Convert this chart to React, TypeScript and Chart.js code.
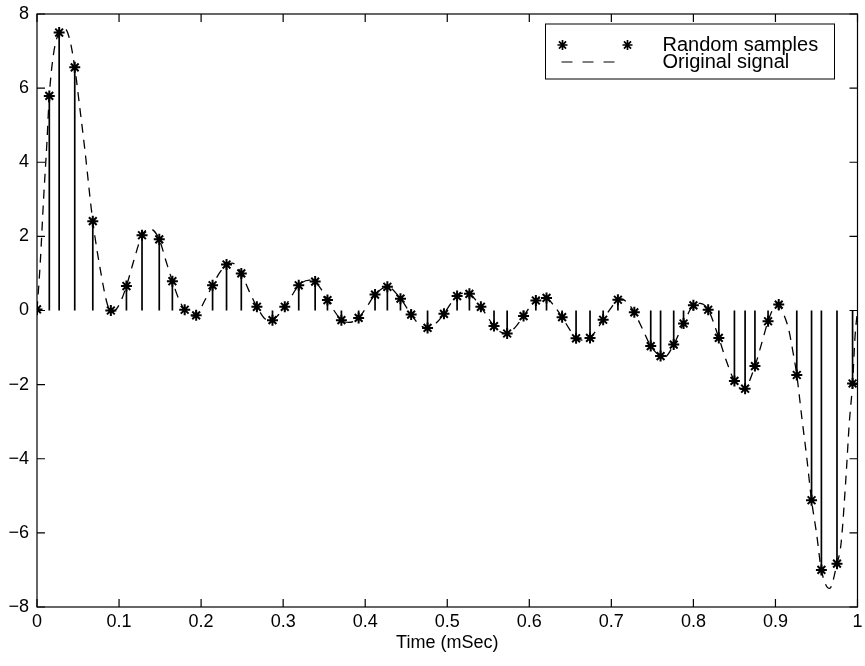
import React, { useEffect, useRef } from "react";
import { Chart, registerables } from "chart.js";

Chart.register(...registerables);

// Random samples (time in mSec, amplitude)
const sampleTimes = [
  0.0, 0.015, 0.027, 0.046, 0.068, 0.09, 0.109, 0.128, 0.149, 0.165,
  0.18, 0.194, 0.214, 0.231, 0.249, 0.268, 0.287, 0.302, 0.319, 0.339,
  0.354, 0.371, 0.392, 0.412, 0.427, 0.443, 0.456, 0.476, 0.496, 0.512,
  0.527, 0.541, 0.557, 0.573, 0.593, 0.608, 0.621, 0.64, 0.657, 0.674,
  0.69, 0.708, 0.728, 0.748, 0.76, 0.776, 0.788, 0.8, 0.818, 0.831,
  0.85, 0.863, 0.875, 0.891, 0.904, 0.926, 0.944, 0.956, 0.975, 0.994,
];
const sampleValues = [
  0.03, 5.79, 7.5, 6.56, 2.41, 0.0, 0.66, 2.03, 1.92, 0.79,
  0.02, -0.13, 0.68, 1.24, 1.0, 0.1, -0.26, 0.1, 0.68, 0.78,
  0.28, -0.26, -0.2, 0.43, 0.64, 0.32, -0.11, -0.47, -0.09, 0.39,
  0.45, 0.1, -0.42, -0.62, -0.15, 0.27, 0.34, -0.18, -0.75, -0.74,
  -0.25, 0.29, -0.05, -0.96, -1.23, -0.92, -0.35, 0.14, 0.02, -0.74,
  -1.9, -2.11, -1.5, -0.29, 0.16, -1.74, -5.12, -7.0, -6.83, -1.97,
];

// Original signal
const signalTimes = [
  0.0, 0.004, 0.008, 0.012, 0.015, 0.02, 0.027, 0.034, 0.04, 0.046,
  0.052, 0.058, 0.068, 0.078, 0.086, 0.092, 0.1, 0.109, 0.118, 0.128,
  0.138, 0.149, 0.157, 0.165, 0.173, 0.18, 0.19, 0.194, 0.204, 0.214,
  0.222, 0.231, 0.238, 0.249, 0.258, 0.268, 0.28, 0.287, 0.294, 0.302,
  0.31, 0.319, 0.332, 0.339, 0.347, 0.354, 0.362, 0.371, 0.38, 0.392,
  0.402, 0.412, 0.427, 0.443, 0.456, 0.466, 0.476, 0.486, 0.496, 0.504,
  0.512, 0.52, 0.527, 0.534, 0.541, 0.549, 0.557, 0.565, 0.573, 0.583,
  0.593, 0.6, 0.608, 0.616, 0.621, 0.63, 0.64, 0.648, 0.657, 0.665,
  0.674, 0.682, 0.69, 0.699, 0.708, 0.712, 0.72, 0.728, 0.738, 0.748,
  0.76, 0.765, 0.776, 0.788, 0.8, 0.808, 0.818, 0.831, 0.84, 0.85,
  0.86, 0.863, 0.875, 0.883, 0.891, 0.898, 0.904, 0.91, 0.916, 0.922,
  0.926, 0.932, 0.938, 0.944, 0.95, 0.956, 0.966, 0.975, 0.98, 0.986,
  0.99, 0.994, 0.997, 1.0,
];
const signalValues = [
  0.0, 1.3, 3.0, 4.5, 5.79, 6.9, 7.5, 7.6, 7.3, 6.56,
  5.5, 4.4, 2.41, 1.0, 0.15, -0.03, 0.15, 0.66, 1.35, 2.03,
  2.2, 1.92, 1.35, 0.79, 0.3, 0.02, -0.15, -0.13, 0.25, 0.68,
  1.0, 1.24, 1.28, 1.0, 0.55, 0.1, -0.25, -0.26, -0.12, 0.1,
  0.38, 0.68, 0.82, 0.78, 0.55, 0.28, 0.0, -0.26, -0.32, -0.2,
  0.1, 0.43, 0.64, 0.32, -0.11, -0.38, -0.47, -0.35, -0.09, 0.18,
  0.39, 0.47, 0.45, 0.3, 0.1, -0.17, -0.42, -0.58, -0.62, -0.45,
  -0.15, 0.07, 0.27, 0.36, 0.34, 0.13, -0.18, -0.47, -0.75, -0.8,
  -0.74, -0.52, -0.25, 0.05, 0.29, 0.31, 0.2, -0.05, -0.5, -0.96,
  -1.23, -1.25, -0.92, -0.35, 0.14, 0.19, 0.02, -0.74, -1.35, -1.9,
  -2.13, -2.11, -1.5, -0.9, -0.29, 0.08, 0.16, -0.1, -0.5, -1.2,
  -1.74, -2.86, -3.94, -5.12, -6.0, -7.0, -7.5, -6.83, -6.28, -4.48,
  -3.03, -1.97, -0.7, 0.0,
];

const xTickValues = [0, 0.1, 0.2, 0.3, 0.4, 0.5, 0.6, 0.7, 0.8, 0.9, 1];
const xTickLabels = ["0", "0.1", "0.2", "0.3", "0.4", "0.5", "0.6", "0.7", "0.8", "0.9", "1"];
const yTickValues = [-8, -6, -4, -2, 0, 2, 4, 6, 8];
const yTickLabels = ["\u22128", "\u22126", "\u22124", "\u22122", "0", "2", "4", "6", "8"];

const xTitle = "Time (mSec)";
const legendLabels = ["Random samples", "Original signal"];

const FONT = "'Liberation Sans', Arial, Helvetica, sans-serif";

function drawAsterisk(ctx: CanvasRenderingContext2D, cx: number, cy: number, r: number) {
  const d = Math.cos(Math.PI / 4) * r;
  ctx.beginPath();
  ctx.moveTo(cx - r, cy);
  ctx.lineTo(cx + r, cy);
  ctx.moveTo(cx, cy - r);
  ctx.lineTo(cx, cy + r);
  ctx.moveTo(cx - d, cy - d);
  ctx.lineTo(cx + d, cy + d);
  ctx.moveTo(cx - d, cy + d);
  ctx.lineTo(cx + d, cy - d);
  ctx.stroke();
}

const framePlugin = {
  id: "matlabFrame",
  afterDraw(chart: any) {
    const { ctx, chartArea: a, scales } = chart;
    const xs = scales.x;
    const ys = scales.y;
    ctx.save();
    ctx.strokeStyle = "#000";
    ctx.lineWidth = 1.2;
    ctx.setLineDash([]);
    ctx.strokeRect(a.left, a.top, a.right - a.left, a.bottom - a.top);
    const L = 8;
    ctx.beginPath();
    xs.ticks.forEach((t: any) => {
      const px = xs.getPixelForValue(t.value);
      ctx.moveTo(px, a.bottom);
      ctx.lineTo(px, a.bottom - L);
      ctx.moveTo(px, a.top);
      ctx.lineTo(px, a.top + L);
    });
    ys.ticks.forEach((t: any) => {
      const py = ys.getPixelForValue(t.value);
      ctx.moveTo(a.left, py);
      ctx.lineTo(a.left + L, py);
      ctx.moveTo(a.right, py);
      ctx.lineTo(a.right - L, py);
    });
    ctx.stroke();

    // legend box inside the axes, top right
    const bl = a.right - 312;
    const br = a.right - 23;
    const bt = a.top + 10;
    const bb = a.top + 65;
    ctx.fillStyle = "#fff";
    ctx.fillRect(bl, bt, br - bl, bb - bt);
    ctx.lineWidth = 1;
    ctx.strokeRect(bl, bt, br - bl, bb - bt);

    const row1 = bt + 21;
    const row2 = bt + 38;
    ctx.lineWidth = 1.7;
    drawAsterisk(ctx, bl + 17, row1, 5);
    drawAsterisk(ctx, bl + 82, row1, 5);

    ctx.lineWidth = 1.2;
    ctx.setLineDash([11, 10]);
    ctx.beginPath();
    ctx.moveTo(bl + 16, row2);
    ctx.lineTo(bl + 70, row2);
    ctx.stroke();
    ctx.setLineDash([]);

    ctx.fillStyle = "#000";
    ctx.font = `20px ${FONT}`;
    ctx.textAlign = "left";
    ctx.textBaseline = "middle";
    ctx.fillText(legendLabels[0], bl + 117, row1);
    ctx.fillText(legendLabels[1], bl + 117, row2);
    ctx.restore();
  },
};

export default function App() {
  const canvasRef = useRef<HTMLCanvasElement | null>(null);

  useEffect(() => {
    const canvas = canvasRef.current;
    if (!canvas) return;

    const samplePoints = sampleTimes.map((t, i) => ({ x: t, y: sampleValues[i] }));
    const stemPoints: { x: number; y: number | null }[] = [];
    sampleTimes.forEach((t, i) => {
      stemPoints.push({ x: t, y: 0 });
      stemPoints.push({ x: t, y: sampleValues[i] });
      stemPoints.push({ x: t, y: null });
    });
    const signalPoints = signalTimes.map((t, i) => ({ x: t, y: signalValues[i] }));

    const chart = new Chart(canvas, {
      type: "line",
      data: {
        datasets: [
          {
            label: legendLabels[0],
            data: samplePoints,
            showLine: false,
            pointStyle: "star",
            pointRadius: 5.5,
            pointBorderWidth: 2,
            pointBorderColor: "#000",
            pointBackgroundColor: "#000",
            pointHoverRadius: 5.5,
          },
          {
            label: "stems",
            data: stemPoints,
            borderColor: "#000",
            borderWidth: 1.7,
            pointRadius: 0,
            spanGaps: false,
            tension: 0,
          },
          {
            label: legendLabels[1],
            data: signalPoints,
            borderColor: "#000",
            borderWidth: 1.3,
            borderDash: [9, 7],
            pointRadius: 0,
            cubicInterpolationMode: "monotone",
          },
        ],
      } as any,
      options: {
        responsive: false,
        animation: false,
        events: [],
        layout: { padding: { top: 14, right: 2, left: 0, bottom: 0 } },
        plugins: {
          legend: { display: false },
          tooltip: { enabled: false },
        },
        scales: {
          x: {
            type: "linear",
            min: 0,
            max: 1,
            grid: { display: false, drawTicks: false },
            border: { display: false },
            afterBuildTicks: (scale: any) => {
              scale.ticks = xTickValues.map((v) => ({ value: v }));
            },
            afterFit: (scale: any) => {
              scale.height = 59;
              scale.paddingLeft = 0;
              scale.paddingRight = 0;
            },
            ticks: {
              autoSkip: false,
              maxRotation: 0,
              padding: 4,
              color: "#000",
              font: { family: FONT, size: 18 },
              callback: (_v: any, i: number) => xTickLabels[i],
            },
            title: {
              display: true,
              text: xTitle,
              color: "#000",
              font: { family: FONT, size: 18 },
              padding: { top: 0, bottom: 12 },
            },
          },
          y: {
            type: "linear",
            min: -8,
            max: 8,
            grid: { display: false, drawTicks: false },
            border: { display: false },
            afterBuildTicks: (scale: any) => {
              scale.ticks = yTickValues.map((v) => ({ value: v }));
            },
            afterFit: (scale: any) => {
              scale.width = 37;
              scale.paddingTop = 0;
              scale.paddingBottom = 0;
            },
            ticks: {
              autoSkip: false,
              padding: 8,
              color: "#000",
              font: { family: FONT, size: 18 },
              callback: (_v: any, i: number) => yTickLabels[i],
            },
          },
        },
      } as any,
      plugins: [framePlugin],
    });

    return () => {
      chart.destroy();
    };
  }, []);

  return (
    <div style={{ position: "absolute", left: 0, top: 0, width: 865, height: 666, background: "#fff" }}>
      <canvas ref={canvasRef} width={865} height={666} style={{ display: "block" }} />
    </div>
  );
}
